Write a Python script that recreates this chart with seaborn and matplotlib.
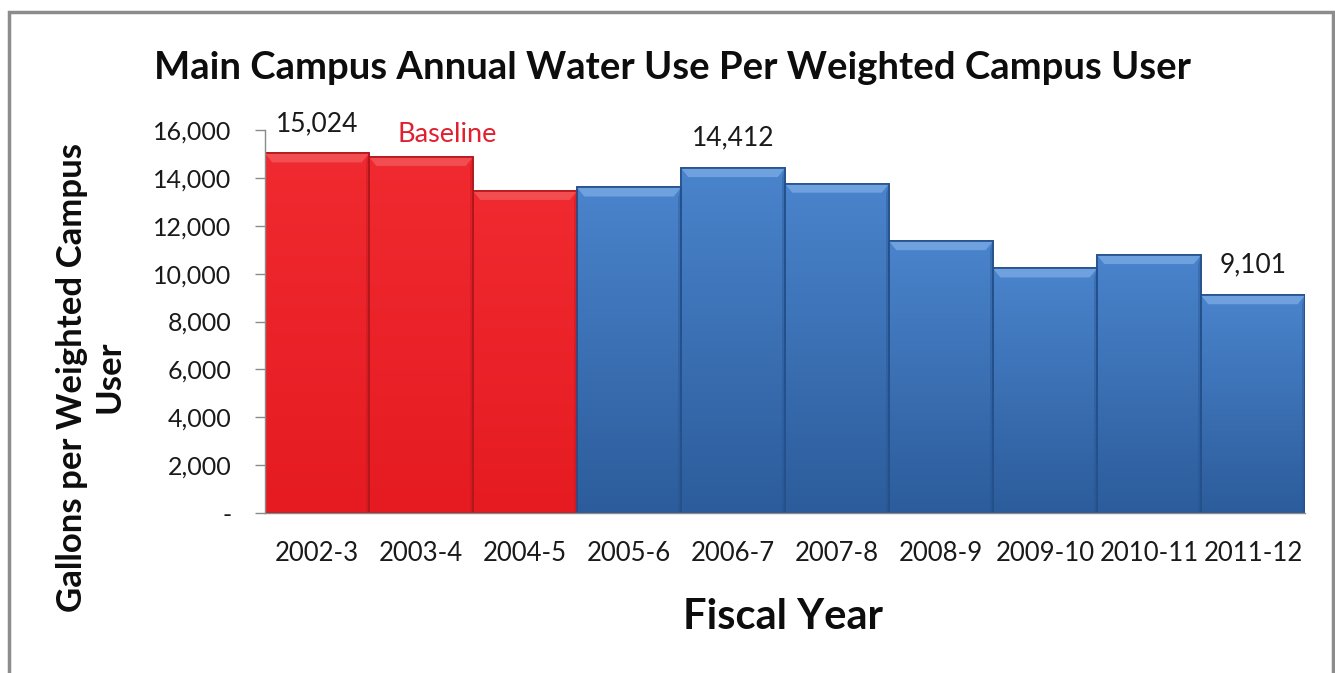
import numpy as np
import pandas as pd
import matplotlib
matplotlib.use("Agg")
import matplotlib.pyplot as plt
import seaborn as sns
from matplotlib.patches import Polygon, Rectangle
from matplotlib.colors import LinearSegmentedColormap
from matplotlib.ticker import FuncFormatter

# Annual water use per weighted campus user, by fiscal year
years = ["2002-3", "2003-4", "2004-5", "2005-6", "2006-7",
         "2007-8", "2008-9", "2009-10", "2010-11", "2011-12"]
gallons = [15024, 14880, 13460, 13600, 14412, 13760, 11360, 10220, 10780, 9101]
period = ["Baseline"] * 3 + ["After"] * 7
labelled_years = ["2002-3", "2006-7", "2011-12"]
y_ticks = [0, 2000, 4000, 6000, 8000, 10000, 12000, 14000, 16000]

palette = {"Baseline": "#EC1C24", "After": "#3C72B9"}
edge_col = {"Baseline": "#B3161C", "After": "#24508C"}
grad_top = {"Baseline": "#F02A30", "After": "#4A84CC"}
grad_bot = {"Baseline": "#E61B22", "After": "#2C5C9B"}
bevel_col = {"Baseline": "#F4585C", "After": "#78A9E2"}

sns.set_theme(style="white")
plt.rcParams["font.family"] = ["Lato", "DejaVu Sans"]

df = pd.DataFrame({"year": years, "gallons": gallons, "period": period})

fig = plt.figure(figsize=(13.35, 6.73), dpi=100)
ax = fig.add_axes([265 / 1335, 160 / 673, 1040 / 1335, 383 / 673])

sns.barplot(data=df, x="year", y="gallons", hue="period", palette=palette,
            width=1.0, dodge=False, legend=False, saturation=1,
            linewidth=1.2, ax=ax)

# shading: vertical gradient plus a bevelled top edge on each bar
group_of = dict(zip(years, period))
ymax = 16000
for patch in list(ax.patches):
    x0 = patch.get_x()
    w = patch.get_width()
    h = patch.get_height()
    if h <= 0:
        continue
    idx = int(round(x0 + w / 2))
    grp = group_of[years[idx]]
    patch.set_edgecolor(edge_col[grp])
    cmap = LinearSegmentedColormap.from_list("g", [grad_bot[grp], grad_top[grp]])
    grad = np.linspace(0, 1, 256).reshape(-1, 1)
    im = ax.imshow(grad, extent=[x0, x0 + w, 0, h], origin="lower",
                   cmap=cmap, aspect="auto", zorder=patch.get_zorder() + 0.1)
    im.set_clip_path(patch)
    bh = 380   # bevel depth in data units
    bw = 0.07  # bevel inset in category units
    top = Polygon([[x0, h], [x0 + w, h], [x0 + w - bw, h - bh], [x0 + bw, h - bh]],
                  closed=True, facecolor=bevel_col[grp], edgecolor="none",
                  alpha=0.8, zorder=patch.get_zorder() + 0.2)
    ax.add_patch(top)
    right = Polygon([[x0 + w, h], [x0 + w, 0], [x0 + w - bw * 0.4, 0], [x0 + w - bw * 0.4, h - bh]],
                    closed=True, facecolor=edge_col[grp], edgecolor="none",
                    alpha=0.35, zorder=patch.get_zorder() + 0.2)
    ax.add_patch(right)
    outline = Rectangle((x0, 0), w, h, fill=False, edgecolor=edge_col[grp],
                        linewidth=1.2, zorder=patch.get_zorder() + 0.3)
    ax.add_patch(outline)

ax.set_xlim(-0.5, len(years) - 0.5)
ax.set_ylim(0, ymax)
ax.set_yticks(y_ticks)
ax.yaxis.set_major_formatter(FuncFormatter(lambda v, _: "-" if v == 0 else f"{v:,.0f}"))
ax.set_xlabel("")
ax.set_ylabel("")

for side in ["top", "right"]:
    ax.spines[side].set_visible(False)
for side in ["left", "bottom"]:
    ax.spines[side].set_color("#8A8A8A")
    ax.spines[side].set_linewidth(1.0)
    ax.spines[side].set_zorder(5)

ax.tick_params(axis="y", which="major", direction="out", length=7, width=1,
               color="#8A8A8A", labelsize=18, labelcolor="#1A1A1A", pad=17, left=True)
ax.tick_params(axis="x", length=0, labelsize=18.5, labelcolor="#1A1A1A", pad=20)

# value labels on selected bars
for yr, val in zip(years, gallons):
    if yr in labelled_years:
        ax.text(years.index(yr), val + 1250, f"{val:,}", ha="center", va="center",
                fontsize=19, color="#1A1A1A")

ax.text(1.25, 15800, "Baseline", ha="center", va="center", fontsize=19.5,
        color="#E0202E")

fig.text(673 / 1335, 1 - 68 / 673,
         "Main Campus Annual Water Use Per Weighted Campus User",
         ha="center", va="center", fontsize=27.5, fontweight="bold", color="#0D0D0D")
fig.text(783 / 1335, 1 - 617 / 673, "Fiscal Year", ha="center", va="center",
         fontsize=30, fontweight="bold", color="#0D0D0D")
fig.text(91 / 1335, 1 - 377 / 673, "Gallons per Weighted Campus\nUser",
         ha="center", va="center", rotation=90, multialignment="center",
         fontsize=25, fontweight="bold", color="#0D0D0D", linespacing=1.2)

# chart frame
frame = Rectangle((9 / 1335, -0.05), (1333 - 9) / 1335, 1.05 - 12 / 673,
                  transform=fig.transFigure, fill=False, edgecolor="#8C8C8C",
                  linewidth=2.5, clip_on=False)
fig.patches.append(frame)

fig.savefig("out.png", dpi=100)
